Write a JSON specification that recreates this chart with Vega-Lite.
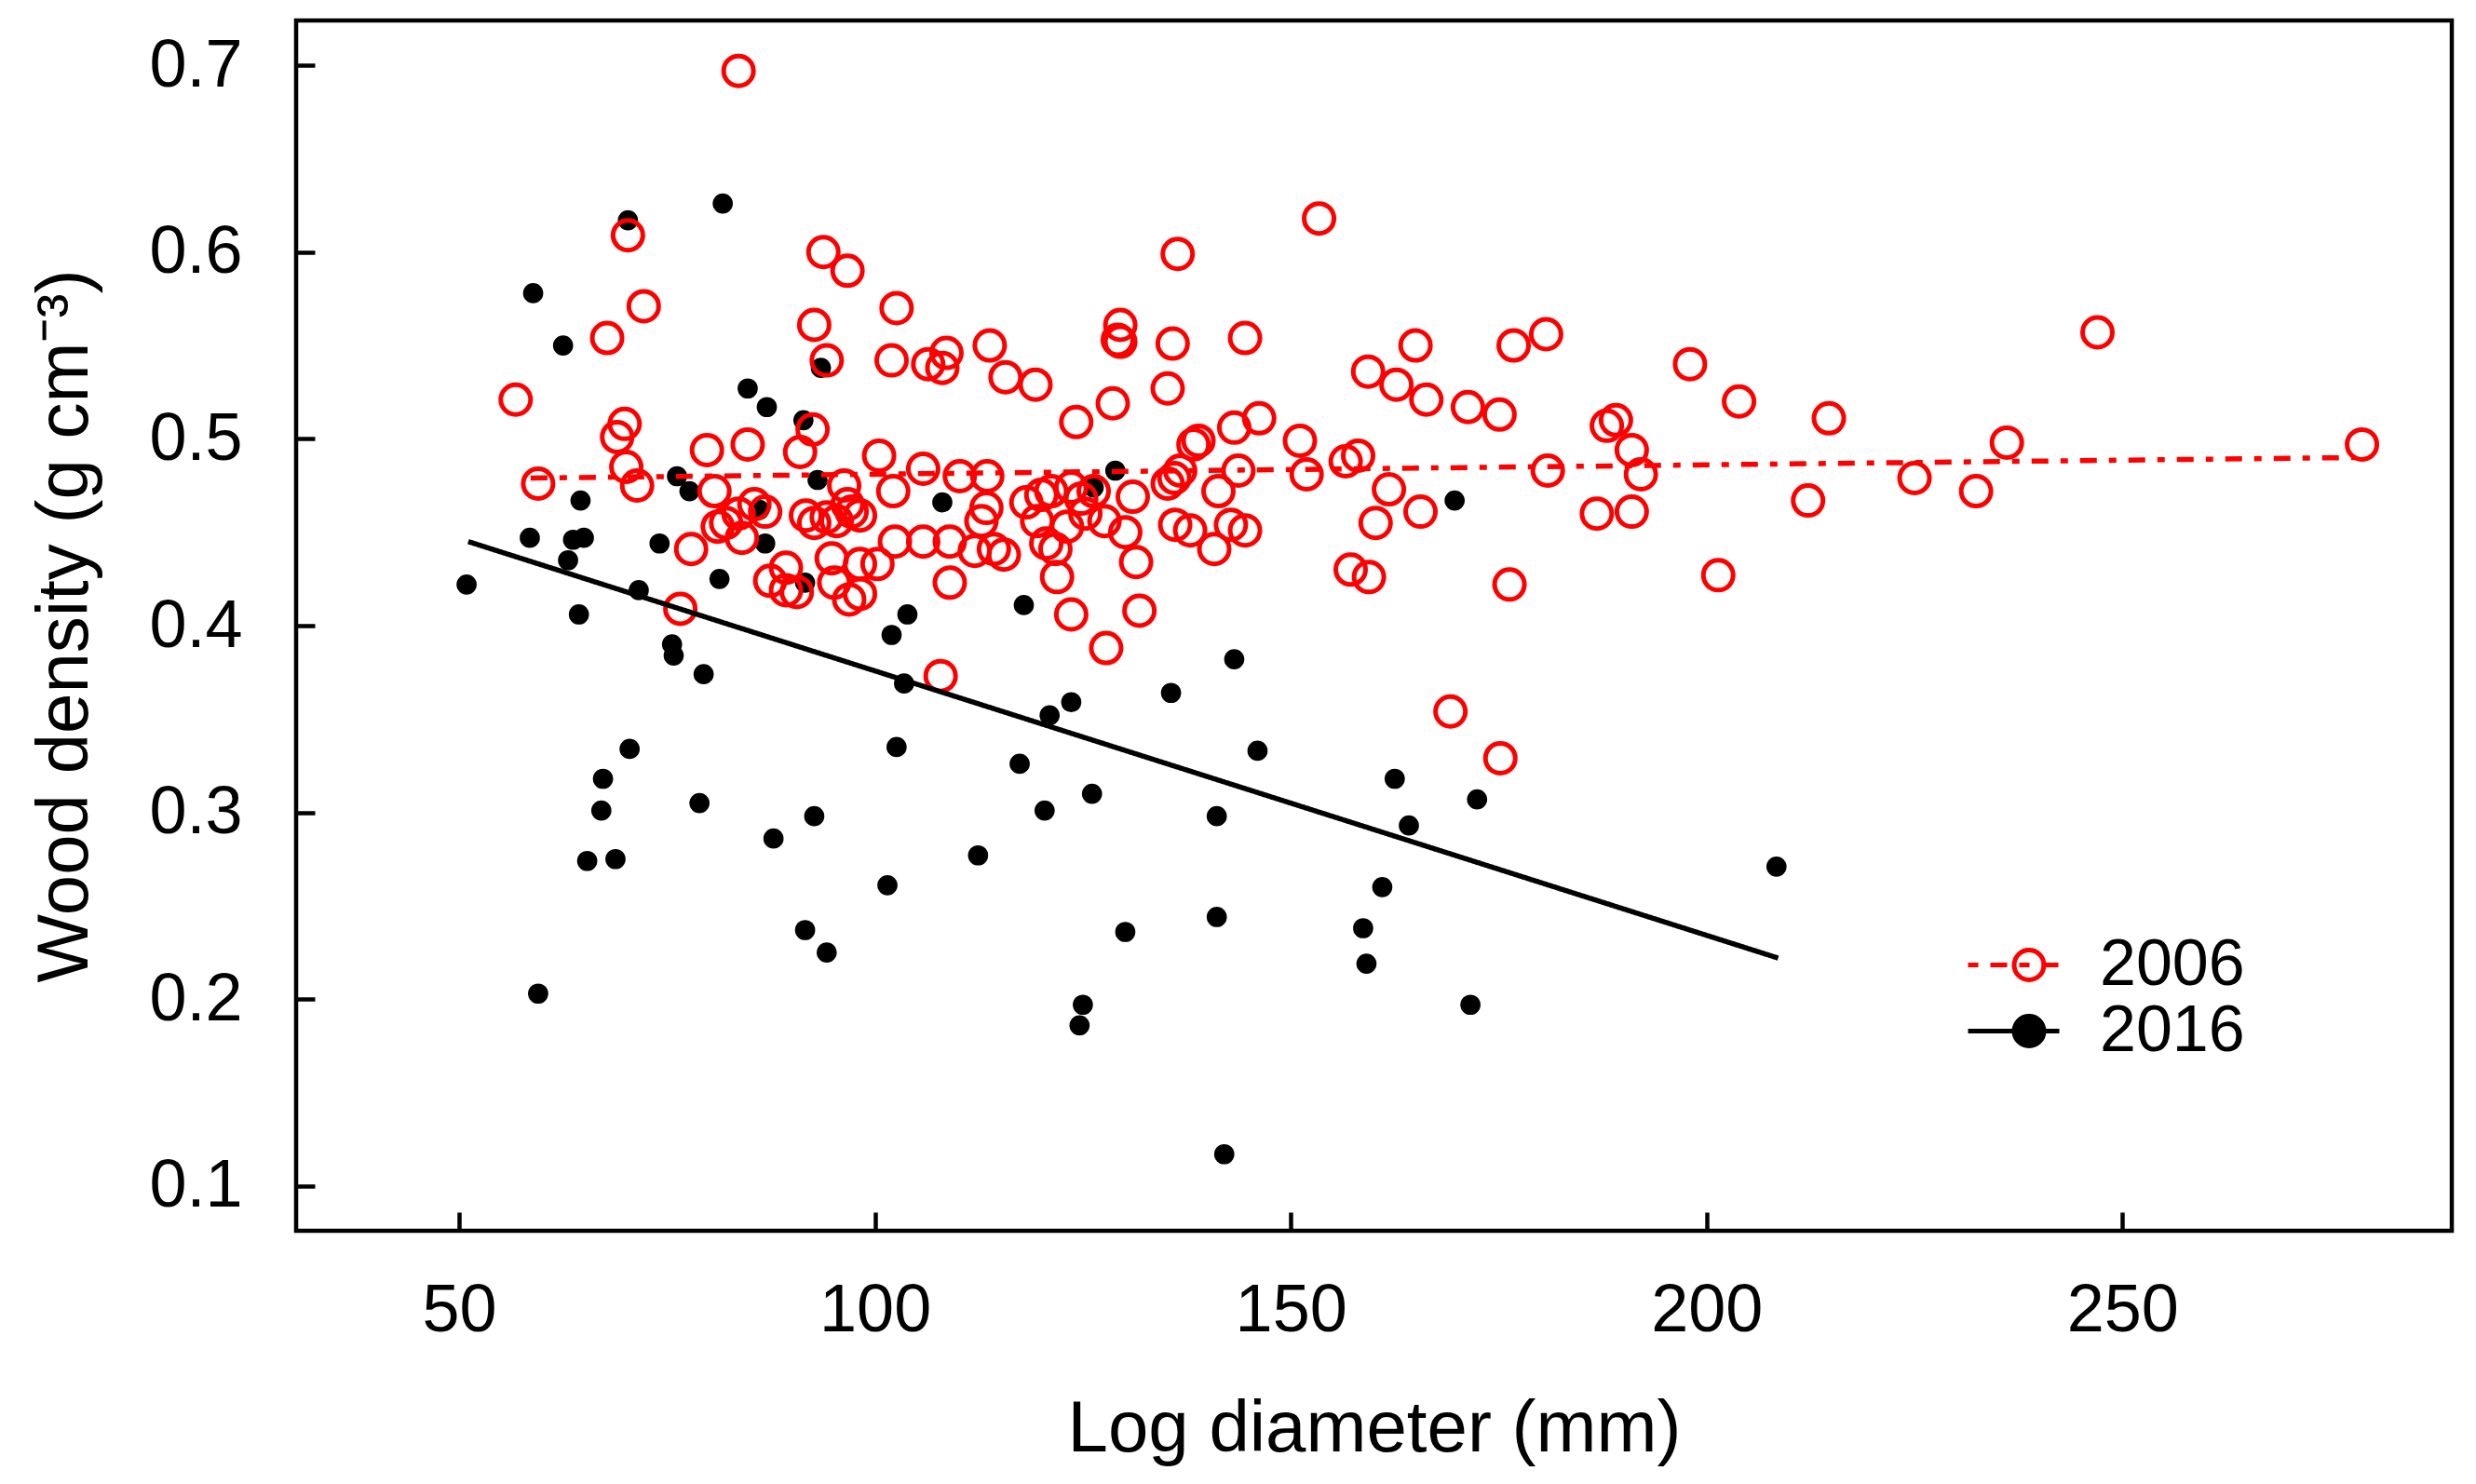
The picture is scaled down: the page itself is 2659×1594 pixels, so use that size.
{
  "$schema": "https://vega.github.io/schema/vega-lite/v6.json",
  "width": 2315,
  "height": 1300,
  "autosize": {"type": "none"},
  "padding": {"left": 318, "top": 22, "right": 26, "bottom": 272},
  "background": "white",
  "datasets": {
    "pts": [
      {"year": 2016, "d": 50.9, "wd": 0.422}, {"year": 2016, "d": 58.9, "wd": 0.578}, {"year": 2016, "d": 58.5, "wd": 0.447},
      {"year": 2016, "d": 59.5, "wd": 0.203}, {"year": 2016, "d": 62.5, "wd": 0.550}, {"year": 2016, "d": 63.1, "wd": 0.435},
      {"year": 2016, "d": 63.7, "wd": 0.446}, {"year": 2016, "d": 64.6, "wd": 0.467}, {"year": 2016, "d": 65.0, "wd": 0.447},
      {"year": 2016, "d": 64.4, "wd": 0.406}, {"year": 2016, "d": 65.4, "wd": 0.274}, {"year": 2016, "d": 67.3, "wd": 0.318},
      {"year": 2016, "d": 67.1, "wd": 0.301}, {"year": 2016, "d": 68.8, "wd": 0.275}, {"year": 2016, "d": 70.3, "wd": 0.617},
      {"year": 2016, "d": 70.5, "wd": 0.334}, {"year": 2016, "d": 71.6, "wd": 0.419}, {"year": 2016, "d": 74.1, "wd": 0.444},
      {"year": 2016, "d": 75.6, "wd": 0.390}, {"year": 2016, "d": 75.8, "wd": 0.384}, {"year": 2016, "d": 76.2, "wd": 0.480},
      {"year": 2016, "d": 77.7, "wd": 0.472}, {"year": 2016, "d": 78.9, "wd": 0.305}, {"year": 2016, "d": 79.4, "wd": 0.374},
      {"year": 2016, "d": 81.3, "wd": 0.425}, {"year": 2016, "d": 81.7, "wd": 0.626}, {"year": 2016, "d": 84.7, "wd": 0.527},
      {"year": 2016, "d": 86.1, "wd": 0.462}, {"year": 2016, "d": 87.0, "wd": 0.517}, {"year": 2016, "d": 86.8, "wd": 0.444},
      {"year": 2016, "d": 87.8, "wd": 0.286}, {"year": 2016, "d": 91.4, "wd": 0.510}, {"year": 2016, "d": 91.6, "wd": 0.237},
      {"year": 2016, "d": 92.7, "wd": 0.298}, {"year": 2016, "d": 93.1, "wd": 0.478}, {"year": 2016, "d": 93.5, "wd": 0.538},
      {"year": 2016, "d": 94.2, "wd": 0.225}, {"year": 2016, "d": 91.6, "wd": 0.423}, {"year": 2016, "d": 101.5, "wd": 0.261},
      {"year": 2016, "d": 102.0, "wd": 0.395}, {"year": 2016, "d": 102.6, "wd": 0.335}, {"year": 2016, "d": 103.5, "wd": 0.369},
      {"year": 2016, "d": 103.9, "wd": 0.406}, {"year": 2016, "d": 108.1, "wd": 0.466}, {"year": 2016, "d": 112.4, "wd": 0.277},
      {"year": 2016, "d": 117.4, "wd": 0.326}, {"year": 2016, "d": 117.9, "wd": 0.411}, {"year": 2016, "d": 120.4, "wd": 0.301},
      {"year": 2016, "d": 121.0, "wd": 0.352}, {"year": 2016, "d": 123.6, "wd": 0.359}, {"year": 2016, "d": 124.6, "wd": 0.186},
      {"year": 2016, "d": 125.0, "wd": 0.197}, {"year": 2016, "d": 126.1, "wd": 0.310}, {"year": 2016, "d": 128.9, "wd": 0.483},
      {"year": 2016, "d": 126.3, "wd": 0.474}, {"year": 2016, "d": 130.1, "wd": 0.236}, {"year": 2016, "d": 135.6, "wd": 0.364},
      {"year": 2016, "d": 141.1, "wd": 0.298}, {"year": 2016, "d": 141.1, "wd": 0.244}, {"year": 2016, "d": 142.0, "wd": 0.117},
      {"year": 2016, "d": 143.2, "wd": 0.382}, {"year": 2016, "d": 146.0, "wd": 0.333}, {"year": 2016, "d": 158.7, "wd": 0.238},
      {"year": 2016, "d": 159.1, "wd": 0.219}, {"year": 2016, "d": 161.0, "wd": 0.260}, {"year": 2016, "d": 162.5, "wd": 0.318},
      {"year": 2016, "d": 164.2, "wd": 0.293}, {"year": 2016, "d": 169.7, "wd": 0.467}, {"year": 2016, "d": 171.6, "wd": 0.197},
      {"year": 2016, "d": 172.4, "wd": 0.307}, {"year": 2016, "d": 208.4, "wd": 0.271},
      {"year": 2006, "d": 83.6, "wd": 0.697}, {"year": 2006, "d": 56.8, "wd": 0.521}, {"year": 2006, "d": 59.5, "wd": 0.476},
      {"year": 2006, "d": 70.3, "wd": 0.609}, {"year": 2006, "d": 72.2, "wd": 0.571}, {"year": 2006, "d": 67.8, "wd": 0.554},
      {"year": 2006, "d": 69.9, "wd": 0.508}, {"year": 2006, "d": 69.0, "wd": 0.501}, {"year": 2006, "d": 70.1, "wd": 0.485},
      {"year": 2006, "d": 71.4, "wd": 0.475}, {"year": 2006, "d": 77.9, "wd": 0.441}, {"year": 2006, "d": 76.6, "wd": 0.409},
      {"year": 2006, "d": 79.8, "wd": 0.494}, {"year": 2006, "d": 80.7, "wd": 0.472}, {"year": 2006, "d": 84.7, "wd": 0.497},
      {"year": 2006, "d": 82.1, "wd": 0.455}, {"year": 2006, "d": 83.6, "wd": 0.460}, {"year": 2006, "d": 84.0, "wd": 0.447},
      {"year": 2006, "d": 85.5, "wd": 0.465}, {"year": 2006, "d": 86.8, "wd": 0.461}, {"year": 2006, "d": 87.4, "wd": 0.424},
      {"year": 2006, "d": 89.3, "wd": 0.419}, {"year": 2006, "d": 90.6, "wd": 0.418}, {"year": 2006, "d": 89.3, "wd": 0.431},
      {"year": 2006, "d": 91.0, "wd": 0.493}, {"year": 2006, "d": 92.5, "wd": 0.505}, {"year": 2006, "d": 92.7, "wd": 0.561},
      {"year": 2006, "d": 93.8, "wd": 0.600}, {"year": 2006, "d": 94.2, "wd": 0.542}, {"year": 2006, "d": 96.7, "wd": 0.590},
      {"year": 2006, "d": 91.7, "wd": 0.459}, {"year": 2006, "d": 92.7, "wd": 0.455}, {"year": 2006, "d": 94.2, "wd": 0.458},
      {"year": 2006, "d": 95.4, "wd": 0.456}, {"year": 2006, "d": 96.3, "wd": 0.475}, {"year": 2006, "d": 96.7, "wd": 0.465},
      {"year": 2006, "d": 97.2, "wd": 0.461}, {"year": 2006, "d": 98.2, "wd": 0.459}, {"year": 2006, "d": 94.8, "wd": 0.436},
      {"year": 2006, "d": 95.1, "wd": 0.423}, {"year": 2006, "d": 96.9, "wd": 0.414}, {"year": 2006, "d": 98.2, "wd": 0.417},
      {"year": 2006, "d": 98.2, "wd": 0.433}, {"year": 2006, "d": 100.3, "wd": 0.433}, {"year": 2006, "d": 100.5, "wd": 0.491},
      {"year": 2006, "d": 102.6, "wd": 0.570}, {"year": 2006, "d": 102.0, "wd": 0.542}, {"year": 2006, "d": 102.2, "wd": 0.472},
      {"year": 2006, "d": 102.4, "wd": 0.445}, {"year": 2006, "d": 105.8, "wd": 0.484}, {"year": 2006, "d": 105.8, "wd": 0.445},
      {"year": 2006, "d": 106.4, "wd": 0.540}, {"year": 2006, "d": 108.1, "wd": 0.538}, {"year": 2006, "d": 108.6, "wd": 0.546},
      {"year": 2006, "d": 107.9, "wd": 0.373}, {"year": 2006, "d": 109.0, "wd": 0.445}, {"year": 2006, "d": 109.0, "wd": 0.423},
      {"year": 2006, "d": 110.2, "wd": 0.480}, {"year": 2006, "d": 112.0, "wd": 0.440}, {"year": 2006, "d": 112.8, "wd": 0.456},
      {"year": 2006, "d": 113.5, "wd": 0.480}, {"year": 2006, "d": 113.8, "wd": 0.550}, {"year": 2006, "d": 114.3, "wd": 0.441},
      {"year": 2006, "d": 115.5, "wd": 0.438}, {"year": 2006, "d": 115.7, "wd": 0.533}, {"year": 2006, "d": 113.4, "wd": 0.463},
      {"year": 2006, "d": 119.3, "wd": 0.529}, {"year": 2006, "d": 118.2, "wd": 0.466}, {"year": 2006, "d": 119.5, "wd": 0.456},
      {"year": 2006, "d": 120.0, "wd": 0.470}, {"year": 2006, "d": 120.6, "wd": 0.444}, {"year": 2006, "d": 121.7, "wd": 0.441},
      {"year": 2006, "d": 121.9, "wd": 0.426}, {"year": 2006, "d": 123.6, "wd": 0.406}, {"year": 2006, "d": 124.2, "wd": 0.509},
      {"year": 2006, "d": 123.1, "wd": 0.453}, {"year": 2006, "d": 124.8, "wd": 0.468}, {"year": 2006, "d": 125.3, "wd": 0.460},
      {"year": 2006, "d": 126.3, "wd": 0.472}, {"year": 2006, "d": 127.6, "wd": 0.456}, {"year": 2006, "d": 128.6, "wd": 0.519},
      {"year": 2006, "d": 127.8, "wd": 0.388}, {"year": 2006, "d": 129.2, "wd": 0.553}, {"year": 2006, "d": 129.5, "wd": 0.561},
      {"year": 2006, "d": 129.5, "wd": 0.552}, {"year": 2006, "d": 130.1, "wd": 0.450}, {"year": 2006, "d": 131.0, "wd": 0.469},
      {"year": 2006, "d": 131.4, "wd": 0.434}, {"year": 2006, "d": 131.8, "wd": 0.408}, {"year": 2006, "d": 135.2, "wd": 0.527},
      {"year": 2006, "d": 135.8, "wd": 0.551}, {"year": 2006, "d": 136.4, "wd": 0.599}, {"year": 2006, "d": 135.2, "wd": 0.476},
      {"year": 2006, "d": 136.0, "wd": 0.479}, {"year": 2006, "d": 136.7, "wd": 0.483}, {"year": 2006, "d": 136.1, "wd": 0.454},
      {"year": 2006, "d": 137.9, "wd": 0.451}, {"year": 2006, "d": 138.3, "wd": 0.497}, {"year": 2006, "d": 138.9, "wd": 0.499},
      {"year": 2006, "d": 140.8, "wd": 0.441}, {"year": 2006, "d": 141.3, "wd": 0.472}, {"year": 2006, "d": 143.2, "wd": 0.506},
      {"year": 2006, "d": 143.7, "wd": 0.483}, {"year": 2006, "d": 144.5, "wd": 0.554}, {"year": 2006, "d": 144.5, "wd": 0.451},
      {"year": 2006, "d": 142.8, "wd": 0.454}, {"year": 2006, "d": 146.2, "wd": 0.511}, {"year": 2006, "d": 151.1, "wd": 0.499},
      {"year": 2006, "d": 151.9, "wd": 0.481}, {"year": 2006, "d": 153.4, "wd": 0.618}, {"year": 2006, "d": 156.6, "wd": 0.488},
      {"year": 2006, "d": 158.1, "wd": 0.491}, {"year": 2006, "d": 157.2, "wd": 0.430}, {"year": 2006, "d": 159.4, "wd": 0.426},
      {"year": 2006, "d": 159.3, "wd": 0.536}, {"year": 2006, "d": 160.2, "wd": 0.455}, {"year": 2006, "d": 161.8, "wd": 0.473},
      {"year": 2006, "d": 162.7, "wd": 0.529}, {"year": 2006, "d": 165.0, "wd": 0.550}, {"year": 2006, "d": 165.6, "wd": 0.461},
      {"year": 2006, "d": 166.3, "wd": 0.521}, {"year": 2006, "d": 169.2, "wd": 0.354}, {"year": 2006, "d": 171.3, "wd": 0.517},
      {"year": 2006, "d": 175.1, "wd": 0.513}, {"year": 2006, "d": 175.2, "wd": 0.329}, {"year": 2006, "d": 176.3, "wd": 0.422},
      {"year": 2006, "d": 176.8, "wd": 0.550}, {"year": 2006, "d": 180.7, "wd": 0.556}, {"year": 2006, "d": 180.9, "wd": 0.483},
      {"year": 2006, "d": 186.8, "wd": 0.460}, {"year": 2006, "d": 188.0, "wd": 0.507}, {"year": 2006, "d": 189.1, "wd": 0.510},
      {"year": 2006, "d": 191.0, "wd": 0.494}, {"year": 2006, "d": 191.0, "wd": 0.461}, {"year": 2006, "d": 192.1, "wd": 0.481},
      {"year": 2006, "d": 198.0, "wd": 0.540}, {"year": 2006, "d": 201.4, "wd": 0.427}, {"year": 2006, "d": 203.9, "wd": 0.520},
      {"year": 2006, "d": 212.2, "wd": 0.467}, {"year": 2006, "d": 214.7, "wd": 0.511}, {"year": 2006, "d": 225.0, "wd": 0.479},
      {"year": 2006, "d": 232.4, "wd": 0.472}, {"year": 2006, "d": 236.1, "wd": 0.498}, {"year": 2006, "d": 247.0, "wd": 0.557},
      {"year": 2006, "d": 278.8, "wd": 0.497}, {"year": 2006, "d": 121.2, "wd": 0.472}, {"year": 2006, "d": 123.6, "wd": 0.474},
      {"year": 2006, "d": 81.1, "wd": 0.453}
    ],
    "fits": [
      {"year": 2006, "d": 58.6, "wd": 0.479},
      {"year": 2006, "d": 278.0, "wd": 0.490},
      {"year": 2016, "d": 51.1, "wd": 0.445},
      {"year": 2016, "d": 208.6, "wd": 0.222}
    ]
  },
  "layer": [
    {
      "data": {"name": "pts"},
      "mark": {"type": "point", "shape": "circle", "filled": false, "opacity": 1},
      "encoding": {
        "x": {"field": "d", "type": "quantitative", "scale": {"domain": [30.4, 289.6], "nice": false, "zero": false},
          "axis": {"values": [50, 100, 150, 200, 250], "title": "Log diameter (mm)"}},
        "y": {"field": "wd", "type": "quantitative", "scale": {"domain": [0.076, 0.724], "nice": false, "zero": false},
          "axis": {"values": [0.1, 0.2, 0.3, 0.4, 0.5, 0.6, 0.7], "format": ".1f", "title": "Wood density (g cm⁻³)"}},
        "color": {"field": "year", "type": "nominal",
          "scale": {"domain": [2006, 2016], "range": ["#ff0000", "#000000"]},
          "legend": {"orient": "none", "legendX": 1826, "legendY": 984, "title": null, "symbolType": "circle",
            "symbolSize": 1024, "symbolStrokeWidth": 5, "clipHeight": 61, "rowPadding": 0, "padding": 0,
            "labelOffset": 41, "labelFontSize": 70, "labelFont": "Liberation Sans", "labelExpr": "' '", "labelLimit": 400,
            "encoding": {"symbols": {"fill": {"condition": {"test": "datum.value == 2016", "value": "#000000"}, "value": "transparent"}}}}},
        "fill": {"condition": {"test": "datum.year == 2016", "value": "#000000"}, "value": "transparent"},
        "size": {"condition": {"test": "datum.year == 2016", "value": 470}, "value": 1024},
        "strokeWidth": {"condition": {"test": "datum.year == 2016", "value": 0}, "value": 5}
      }
    },
    {
      "data": {"name": "fits"},
      "mark": {"type": "line", "strokeWidth": 5.5, "strokeCap": "butt"},
      "encoding": {
        "x": {"field": "d", "type": "quantitative"},
        "y": {"field": "wd", "type": "quantitative"},
        "color": {"field": "year", "type": "nominal",
          "scale": {"domain": [2006, 2016], "range": ["#ff0000", "#000000"]},
          "legend": {"orient": "none", "legendX": 1793, "legendY": 984, "title": null, "symbolType": "stroke",
            "symbolSize": 9604, "symbolStrokeWidth": 5, "clipHeight": 61, "rowPadding": 0, "padding": 0,
            "labelOffset": 41, "labelFontSize": 70, "labelFont": "Liberation Sans", "labelColor": "#000000", "labelLimit": 400,
            "encoding": {"symbols": {"strokeDash": {"condition": {"test": "datum.value == 2006", "value": [11, 13, 18, 13]}, "value": [1, 0]}}}}},
        "strokeDash": {"field": "year", "type": "nominal",
          "scale": {"domain": [2006, 2016], "range": [[18, 13, 8, 13], [1, 0]]},
          "legend": null}
      }
    }
  ],
  "resolve": {"scale": {"color": "independent"}},
  "config": {
    "font": "Liberation Sans",
    "view": {"stroke": "#000000", "strokeWidth": 4.5},
    "axis": {
      "domain": false, "grid": false, "offset": -20,
      "tickSize": 20, "tickWidth": 4.5, "tickColor": "#000000",
      "labelFont": "Liberation Sans", "labelFontSize": 72, "labelColor": "#000000",
      "titleFont": "Liberation Sans", "titleFontSize": 78, "titleFontWeight": "normal", "titleColor": "#000000"
    },
    "axisX": {"labelPadding": 50, "titlePadding": 53},
    "axisY": {"labelPadding": 58, "titlePadding": 50}
  }
}
